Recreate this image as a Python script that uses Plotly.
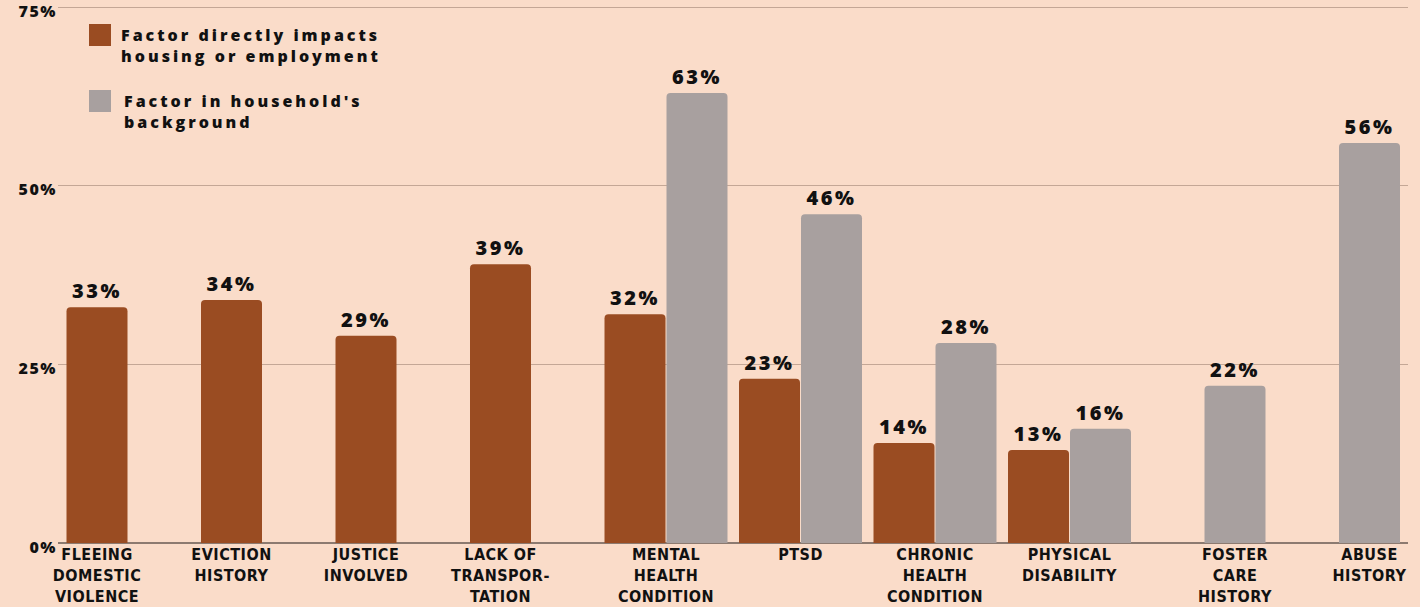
import plotly.graph_objects as go

categories = ["FLEEING<br>DOMESTIC<br>VIOLENCE", "EVICTION<br>HISTORY", "JUSTICE<br>INVOLVED",
              "LACK OF<br>TRANSPOR-<br>TATION", "MENTAL<br>HEALTH<br>CONDITION", "PTSD",
              "CHRONIC<br>HEALTH<br>CONDITION", "PHYSICAL<br>DISABILITY", "FOSTER<br>CARE<br>HISTORY",
              "ABUSE<br>HISTORY"]
direct_impact = [33, 34, 29, 39, 32, 23, 14, 13, None, None]
background = [None, None, None, None, 63, 46, 28, 16, 22, 56]
series_names = ["Factor directly impacts<br>housing or employment", "Factor in household's<br>background"]
y_ticks = [0, 25, 50, 75]

BROWN = "#9A4C22"
GRAY = "#A8A09F"
BG = "#FADCC9"

W, H = 1420, 607
ML, MR, MT, MB = 58, 12, 5, 64
PW = W - ML - MR
PH = H - MT - MB
Y_MAX = 75.3

def px_x(p):
    return (p - ML) / PW

def px_y(p):
    return (H - MB - p) / PH

half = 0.2305
bw = 0.4535
idx = list(range(len(categories)))
brown_x = [i - half for i in idx]
gray_x = [i + half for i in idx]
tick_pos = []
for i, (a, b) in enumerate(zip(direct_impact, background)):
    if a is not None and b is not None:
        tick_pos.append(i)
    elif a is not None:
        tick_pos.append(i - half)
    else:
        tick_pos.append(i + half)

label_font = dict(family="Open Sans", size=20, color="#111111", weight=800)

fig = go.Figure()
fig.add_trace(go.Bar(
    x=brown_x, y=direct_impact, width=bw, name=series_names[0],
    marker=dict(color=BROWN, line=dict(width=0)),
    text=[f"{v}%" if v is not None else "" for v in direct_impact],
    textposition="outside", textfont=label_font, cliponaxis=False,
    hoverinfo="skip", showlegend=False,
))
fig.add_trace(go.Bar(
    x=gray_x, y=background, width=bw, name=series_names[1],
    marker=dict(color=GRAY, line=dict(width=0)),
    text=[f"{v}%" if v is not None else "" for v in background],
    textposition="outside", textfont=label_font, cliponaxis=False,
    hoverinfo="skip", showlegend=False,
))

# custom legend (swatches + text)
legend_items = [(BROWN, series_names[0], 24, 119, 22), (GRAY, series_names[1], 90, 122, 88)]
for color, name, top, text_x, text_top in legend_items:
    fig.add_shape(type="rect", xref="paper", yref="paper",
                  x0=px_x(89), x1=px_x(111), y0=px_y(top + 22), y1=px_y(top),
                  fillcolor=color, line=dict(width=0), layer="above")
    fig.add_annotation(xref="paper", yref="paper", x=px_x(text_x), y=px_y(text_top),
                       xanchor="left", yanchor="top", align="left", showarrow=False,
                       text=name, font=dict(family="Open Sans", size=16, color="#111111", weight=800))

fig.update_layout(
    width=W, height=H,
    margin=dict(l=ML, r=MR, t=MT, b=MB, pad=0),
    paper_bgcolor=BG, plot_bgcolor=BG,
    barmode="overlay", barcornerradius=4,
    showlegend=False,
    xaxis=dict(range=[(ML - 128) / 134.5, (W - MR - 128) / 134.5],
               tickvals=tick_pos, ticktext=categories, automargin=False,
               showgrid=False, zeroline=False, showline=False, ticks="",
               tickfont=dict(family="DejaVu Sans Condensed, Liberation Sans Narrow, Roboto Condensed, sans-serif",
                             size=16, color="#111111", weight=700),
               fixedrange=True),
    yaxis=dict(range=[0, Y_MAX], tickvals=y_ticks, ticktext=[f"{v}%" for v in y_ticks],
               automargin=False, ticklabeloverflow="allow", ticklabelshift=4,
               showgrid=True, gridcolor="#C4A796", gridwidth=1,
               zeroline=True, zerolinecolor="#8C7A70", zerolinewidth=1.5,
               tickfont=dict(family="Open Sans", size=16, color="#111111", weight=800),
               ticks="", fixedrange=True),
)

post = """
document.body.style.margin='0px';
function spacing(){
  document.querySelectorAll('.annotation-text').forEach(function(e){e.style.letterSpacing='3px';});
  document.querySelectorAll('text.bartext').forEach(function(e){e.style.letterSpacing='2.5px';});
  document.querySelectorAll('.ytick text').forEach(function(e){e.style.letterSpacing='1.5px';});
  document.querySelectorAll('.xtick text').forEach(function(e){e.style.letterSpacing='0.5px';});
}
spacing();
setTimeout(spacing, 100);
setTimeout(spacing, 500);
"""

fig.write_html("out.html", post_script=post, config={"displayModeBar": False})
